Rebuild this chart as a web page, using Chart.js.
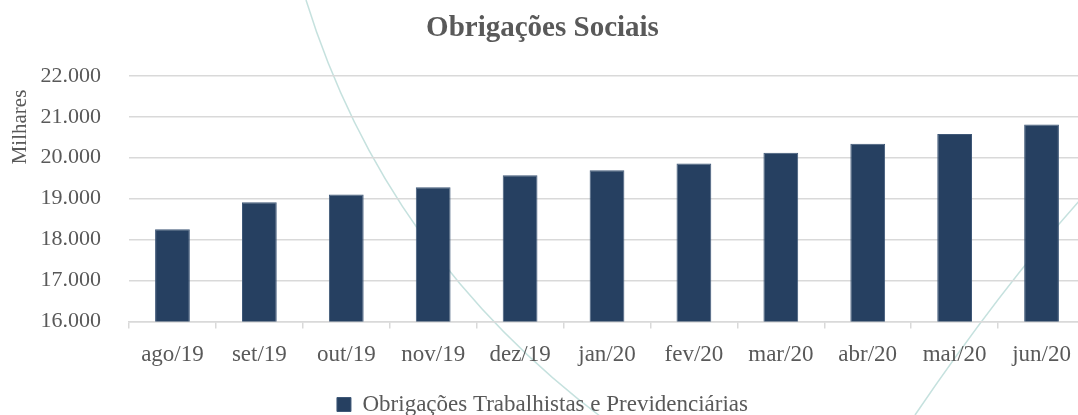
<!DOCTYPE html>
<html lang="pt-BR">

<head>
    <meta charset="UTF-8">
    <title>Obrigações Sociais</title>
    <script src="https://cdn.jsdelivr.net/npm/chart.js"></script>
    <style>
        html, body { margin: 0; padding: 0; background: #fff; overflow: hidden; }
        #wrap { position: absolute; left: 0; top: 0; }
    </style>
</head>

<body>
    <div id="wrap">
        <canvas id="graficoObrigacoes" width="1090" height="428"></canvas>
    </div>

<script>
    // dados (em milhares)
    const meses = ['ago/19', 'set/19', 'out/19', 'nov/19', 'dez/19', 'jan/20', 'fev/20', 'mar/20', 'abr/20', 'mai/20', 'jun/20'];
    const obrigacoes = [18250, 18910, 19100, 19280, 19570, 19690, 19860, 20120, 20340, 20580, 20810];
    const serieNome = 'Obrigações Trabalhistas e Previdenciárias';
    const tituloGrafico = 'Obrigações Sociais';
    const tituloEixoY = 'Milhares';

    const fonte = "'Liberation Serif', 'Times New Roman', serif";
    const cinza = '#595959';
    const azul = '#264061';

    // 22000 -> "22.000"
    function formatarMilhar(v) {
        return String(Math.round(v)).replace(/\B(?=(\d{3})+(?!\d))/g, '.');
    }

    // linhas decorativas do fundo (marca d'agua)
    const fundoDecorativo = {
        id: 'fundoDecorativo',
        beforeDraw(chart) {
            const ctx = chart.ctx;
            ctx.save();
            ctx.strokeStyle = 'rgba(150, 200, 195, 0.55)';
            ctx.lineWidth = 1.5;
            ctx.beginPath();
            ctx.moveTo(306, 0);
            ctx.quadraticCurveTo(385, 255, 605, 420);
            ctx.stroke();
            ctx.beginPath();
            ctx.moveTo(915, 415);
            ctx.quadraticCurveTo(1000, 290, 1080, 200);
            ctx.stroke();
            ctx.restore();
        }
    };

    // titulo do eixo Y (fica mais alto que o centro do eixo)
    const tituloY = {
        id: 'tituloY',
        afterDraw(chart) {
            const ctx = chart.ctx;
            ctx.save();
            ctx.translate(20, 127);
            ctx.rotate(-Math.PI / 2);
            ctx.font = '21px ' + fonte;
            ctx.fillStyle = cinza;
            ctx.textAlign = 'center';
            ctx.textBaseline = 'middle';
            ctx.fillText(tituloEixoY, 0, 0);
            ctx.restore();
        }
    };

    document.addEventListener("DOMContentLoaded", function () {
        const ctx = document.getElementById('graficoObrigacoes').getContext('2d');
        new Chart(ctx, {
            type: 'bar',
            data: {
                labels: meses,
                datasets: [{
                    label: serieNome,
                    data: obrigacoes,
                    backgroundColor: azul,
                    borderColor: '#3f5878',
                    borderWidth: 1,
                    categoryPercentage: 1,
                    barPercentage: 0.4
                }]
            },
            options: {
                responsive: false,
                animation: false,
                layout: { padding: { top: 0, right: 5, bottom: 2, left: 0 } },
                plugins: {
                    title: {
                        display: true,
                        text: tituloGrafico,
                        color: cinza,
                        font: { family: fonte, size: 29, weight: 'bold' },
                        padding: { top: 11, bottom: 30 }
                    },
                    legend: {
                        position: 'bottom',
                        labels: {
                            color: cinza,
                            font: { family: fonte, size: 23 },
                            boxWidth: 14,
                            boxHeight: 14,
                            padding: 6
                        }
                    },
                    tooltip: { enabled: false }
                },
                scales: {
                    x: {
                        afterFit(scale) { scale.height += 5; },
                        grid: {
                            display: true,
                            drawOnChartArea: false,
                            drawTicks: true,
                            tickLength: 7,
                            color: '#d9d9d9',
                            lineWidth: 1.5,
                            offset: true
                        },
                        border: { display: true, color: '#d9d9d9', width: 1.5 },
                        ticks: {
                            color: cinza,
                            font: { family: fonte, size: 23 },
                            padding: 13,
                            maxRotation: 0
                        }
                    },
                    y: {
                        min: 16000,
                        max: 22000,
                        afterFit(scale) { scale.width = 129; },
                        grid: { color: '#d9d9d9', lineWidth: 1.5, drawTicks: false },
                        border: { display: false },
                        ticks: {
                            stepSize: 1000,
                            color: cinza,
                            font: { family: fonte, size: 22 },
                            padding: 28,
                            callback: function (v) { return formatarMilhar(v); }
                        }
                    }
                }
            },
            plugins: [fundoDecorativo, tituloY]
        });
    });
</script>

</body>

</html>
